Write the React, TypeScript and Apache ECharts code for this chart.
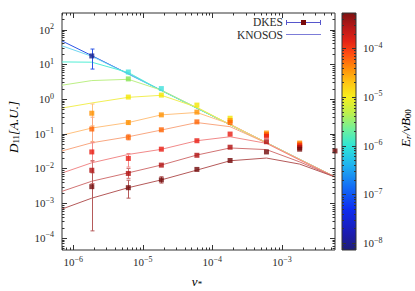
import { useEffect, useRef } from 'react';
import * as echarts from 'echarts';

// ---- axis ranges ----
const X_MIN = 6.9e-7;
const X_MAX = 5.8e-3;
const Y_MIN = 4.5e-5;
const Y_MAX = 300;
const CB_MIN = 7.2e-9;
const CB_MAX = 5.3e-4;

// ---- tick label exponents ----
const xTickExps = [-6, -5, -4, -3];
const yTickExps = [-4, -3, -2, -1, 0, 1, 2];
const cbTickExps = [-8, -7, -6, -5, -4];

// ---- KNOSOS curves (nu grid, one array per E_r value) ----
const nuKnosos = [6.9e-7, 1.85e-6, 6.2e-6, 1.85e-5, 6.0e-5, 1.8e-4, 6.0e-4, 1.8e-3, 5.8e-3];
const knosos1 = [47, 17.8, 5.3, 1.78, 0.55, 0.183, 0.055, 0.0183, 0.0057];
const knosos2 = [34, 17.0, 5.2, 1.76, 0.55, 0.182, 0.055, 0.0182, 0.0057];
const knosos3 = [11.7, 11.5, 5.8, 1.75, 0.54, 0.182, 0.055, 0.0182, 0.0057];
const knosos4 = [2.5, 3.4, 3.7, 1.8, 0.56, 0.182, 0.055, 0.0182, 0.0057];
const knosos5 = [0.55, 0.77, 1.12, 1.28, 0.58, 0.184, 0.055, 0.0182, 0.0057];
const knosos6 = [0.091, 0.146, 0.21, 0.35, 0.41, 0.19, 0.055, 0.0182, 0.0057];
const knosos7 = [0.032, 0.055, 0.082, 0.128, 0.21, 0.16, 0.054, 0.018, 0.0057];
const knosos8 = [0.0074, 0.0146, 0.0254, 0.0356, 0.063, 0.082, 0.053, 0.0175, 0.0057];
const knosos9 = [0.0022, 0.0043, 0.0075, 0.0126, 0.0244, 0.039, 0.035, 0.0155, 0.0057];
const knosos10 = [0.00068, 0.0014, 0.0028, 0.0047, 0.009, 0.0167, 0.02, 0.0134, 0.0057];
const knososLines = [knosos1, knosos2, knosos3, knosos4, knosos5, knosos6, knosos7, knosos8, knosos9, knosos10];

// ---- DKES points ----
const nuDkes = [1.85e-6, 6.2e-6, 1.85e-5, 6.0e-5, 1.8e-4, 6.0e-4, 1.8e-3, 5.8e-3];
const dkes1 = [17.4, null, null, null, null, null, null, null];
const dkes2 = [null, null, null, null, null, null, null, null];
const dkes3 = [null, 6.0, 2.0, null, null, null, null, null];
const dkes4 = [null, 3.8, null, null, null, null, null, null];
const dkes5 = [null, 1.14, 1.3, 0.67, 0.28, null, null, null];
const dkes6 = [0.39, 0.21, 0.35, 0.42, 0.24, 0.105, 0.054, null];
const dkes7 = [0.137, 0.079, 0.13, 0.22, 0.21, 0.095, 0.05, null];
const dkes8 = [0.03, 0.0195, 0.036, 0.063, 0.098, 0.085, 0.045, null];
const dkes9 = [0.0089, 0.0072, 0.0125, 0.024, 0.041, 0.059, 0.04, null];
const dkes10 = [0.003, 0.0028, 0.0047, 0.0094, 0.017, 0.03, 0.036, 0.032];
const dkesPoints = [dkes1, dkes2, dkes3, dkes4, dkes5, dkes6, dkes7, dkes8, dkes9, dkes10];

// error bars: [series index, nu index, low, high]
const errorBars: [number, number, number, number][] = [
  [0, 0, 7.3, 27.5],
  [5, 0, 0.17, 0.72],
  [6, 0, 0.06, 0.3],
  [7, 0, 0.016, 0.055],
  [8, 0, 0.0037, 0.017],
  [9, 0, 1.6e-4, 0.0075],
  [5, 1, 0.19, 0.235],
  [6, 1, 0.066, 0.096],
  [7, 1, 0.011, 0.027],
  [8, 1, 0.0052, 0.01],
  [9, 1, 0.0014, 0.0046],
  [9, 2, 0.0038, 0.0058],
];

// ---- styles ----
const FONT = '"Liberation Serif", "DejaVu Serif", serif';
const AX = '#333333';
const TXT = '#2b2b2b';
const lineColors = ['#2b55e6', '#6fd6f2', '#52efd6', '#bdf086', '#f2ef55', '#ffc27f', '#f9a882', '#f28a8a', '#d27474', '#b55a5a'];
const pointColors = ['#1a2290', '#4fc9ef', '#3fe0dc', '#86e34d', '#f2e600', '#ff9100', '#ff6300', '#e81c12', '#b00f0f', '#720909'];
const cbStops: [number, string][] = [
  [0, '#1e1e78'], [0.07, '#1c1cb0'], [0.17, '#0d2cf0'], [0.27, '#1470f5'], [0.36, '#1fb4ef'],
  [0.44, '#2fe6d6'], [0.51, '#70f09a'], [0.58, '#bff04a'], [0.645, '#f6ef1e'], [0.71, '#ffc212'],
  [0.77, '#ff8a0a'], [0.83, '#ff4a12'], [0.88, '#e52416'], [0.94, '#b81818'], [1, '#7e1212'],
];

const tickRich = {
  b: { fontFamily: FONT, fontSize: 11, color: TXT, lineHeight: 14 },
  s: { fontFamily: FONT, fontSize: 8, color: TXT, lineHeight: 9, verticalAlign: 'top' },
};
const powLabel = (exps: number[]) => (v: number) => {
  const l = Math.log10(v);
  const e = Math.round(l);
  if (Math.abs(l - e) > 1e-6 || !exps.includes(e)) return '';
  return `{b|10}{s|${e < 0 ? '\u2212' + -e : e}}`;
};

function decadeTicks(min: number, max: number) {
  const majors: number[] = [];
  const minors: number[] = [];
  for (let n = Math.floor(Math.log10(min)); n <= Math.ceil(Math.log10(max)); n++) {
    for (let k = 1; k <= 9; k++) {
      const v = k * Math.pow(10, n);
      if (v < min * 1.0001 || v > max * 0.9999) continue;
      (k === 1 ? majors : minors).push(v);
    }
  }
  return { majors, minors };
}

const px = (v: number) => Math.round(v) + 0.5;

function buildOption() {
  const xt = decadeTicks(X_MIN, X_MAX);
  const yt = decadeTicks(Y_MIN, Y_MAX);
  const ct = decadeTicks(CB_MIN, CB_MAX);
  const MAJ = 5;
  const MIN = 2.5;
  const tickData: number[][] = [
    ...xt.majors.map((v) => [v, Y_MIN, 0, MAJ]),
    ...xt.minors.map((v) => [v, Y_MIN, 0, MIN]),
    ...yt.majors.map((v) => [X_MIN, v, 1, MAJ]),
    ...yt.minors.map((v) => [X_MIN, v, 1, MIN]),
  ];
  const cbTickData: number[][] = [
    ...ct.majors.map((v) => [0, v, 4]),
    ...ct.minors.map((v) => [0, v, 2]),
  ];
  const tickStyle = { stroke: AX, lineWidth: 1 };

  const series: any[] = [];
  knososLines.forEach((arr, i) => {
    series.push({
      type: 'line',
      xAxisIndex: 0,
      yAxisIndex: 0,
      data: nuKnosos.map((x, j) => [x, arr[j]]),
      symbol: 'none',
      lineStyle: { color: lineColors[i], width: 1 },
      z: 2,
      silent: true,
    });
  });
  series.push({
    type: 'custom',
    xAxisIndex: 0,
    yAxisIndex: 0,
    z: 3,
    clip: false,
    silent: true,
    data: errorBars.map(([si, ni, lo, hi]) => [nuDkes[ni], lo, hi, si]),
    renderItem: (_p: any, api: any) => {
      const x = api.value(0);
      const a = api.coord([x, api.value(1)]);
      const b = api.coord([x, api.value(2)]);
      const c = lineColors[api.value(3)];
      const st = { stroke: c, lineWidth: 1 };
      const cx = px(a[0]);
      return {
        type: 'group',
        children: [
          { type: 'line', shape: { x1: cx, y1: a[1], x2: cx, y2: b[1] }, style: st },
          { type: 'line', shape: { x1: cx - 2, y1: a[1], x2: cx + 2, y2: a[1] }, style: st },
          { type: 'line', shape: { x1: cx - 2, y1: b[1], x2: cx + 2, y2: b[1] }, style: st },
        ],
      };
    },
  });
  dkesPoints.forEach((arr, i) => {
    const data = nuDkes.map((x, j) => [x, arr[j]]).filter((d) => d[1] !== null);
    if (!data.length) return;
    series.push({
      type: 'scatter',
      xAxisIndex: 0,
      yAxisIndex: 0,
      data,
      symbol: 'rect',
      symbolSize: 5,
      itemStyle: { color: pointColors[i] },
      z: 4,
      clip: false,
      silent: true,
    });
  });
  series.push({
    type: 'custom',
    xAxisIndex: 0,
    yAxisIndex: 0,
    z: 5,
    clip: false,
    silent: true,
    data: tickData,
    renderItem: (_p: any, api: any) => {
      const kind = api.value(2);
      const len = api.value(3);
      if (kind === 0) {
        const v = api.value(0);
        const b = api.coord([v, Y_MIN]);
        const t = api.coord([v, Y_MAX]);
        const x = px(b[0]);
        return {
          type: 'group',
          children: [
            { type: 'line', shape: { x1: x, y1: b[1], x2: x, y2: b[1] - len }, style: tickStyle },
            { type: 'line', shape: { x1: x, y1: t[1], x2: x, y2: t[1] + len }, style: tickStyle },
          ],
        };
      }
      const v = api.value(1);
      const l = api.coord([X_MIN, v]);
      const r = api.coord([X_MAX, v]);
      const y = px(l[1]);
      return {
        type: 'group',
        children: [
          { type: 'line', shape: { x1: l[0], y1: y, x2: l[0] + len, y2: y }, style: tickStyle },
          { type: 'line', shape: { x1: r[0], y1: y, x2: r[0] - len, y2: y }, style: tickStyle },
        ],
      };
    },
  });
  series.push({
    type: 'custom',
    xAxisIndex: 1,
    yAxisIndex: 1,
    z: 5,
    clip: false,
    silent: true,
    data: cbTickData,
    renderItem: (_p: any, api: any) => {
      const v = api.value(1);
      const len = api.value(2);
      const l = api.coord([0, v]);
      const r = api.coord([1, v]);
      const y = px(l[1]);
      return {
        type: 'group',
        children: [
          { type: 'line', shape: { x1: l[0], y1: y, x2: l[0] + len, y2: y }, style: tickStyle },
          { type: 'line', shape: { x1: r[0], y1: y, x2: r[0] - len, y2: y }, style: tickStyle },
        ],
      };
    },
  });

  const nameRich = {
    i: { fontFamily: FONT, fontSize: 13, fontStyle: 'italic', color: TXT },
    n: { fontFamily: FONT, fontSize: 13, color: TXT },
    sub: { fontFamily: FONT, fontSize: 9, fontStyle: 'normal', color: TXT, verticalAlign: 'bottom', padding: [6, 0, 0, 0] },
    subi: { fontFamily: FONT, fontSize: 9, fontStyle: 'italic', color: TXT, verticalAlign: 'bottom', padding: [6, 0, 0, 0] },
  };

  return {
    animation: false,
    backgroundColor: '#ffffff',
    grid: [
      { left: 62, top: 13, width: 273, height: 237, show: true, borderColor: AX, borderWidth: 1, backgroundColor: 'transparent' },
      {
        left: 342, top: 13, width: 14, height: 237, show: true, borderColor: AX, borderWidth: 1,
        backgroundColor: {
          type: 'linear', x: 0, y: 1, x2: 0, y2: 0,
          colorStops: cbStops.map(([offset, color]) => ({ offset, color })),
        },
      },
    ],
    xAxis: [
      {
        type: 'log', gridIndex: 0, min: X_MIN, max: X_MAX, logBase: 10,
        axisLine: { show: false }, axisTick: { show: false }, splitLine: { show: false },
        axisLabel: { formatter: powLabel(xTickExps), rich: tickRich, margin: 5, interval: 0, hideOverlap: false },
      },
      { type: 'value', gridIndex: 1, min: 0, max: 1, show: false },
    ],
    yAxis: [
      {
        type: 'log', gridIndex: 0, min: Y_MIN, max: Y_MAX, logBase: 10,
        axisLine: { show: false }, axisTick: { show: false }, splitLine: { show: false },
        axisLabel: { formatter: powLabel(yTickExps), rich: tickRich, margin: 8, interval: 0, hideOverlap: false },
      },
      {
        type: 'log', gridIndex: 1, min: CB_MIN, max: CB_MAX, logBase: 10, position: 'right',
        axisLine: { show: false }, axisTick: { show: false }, splitLine: { show: false },
        axisLabel: { formatter: powLabel(cbTickExps), rich: tickRich, margin: 7, interval: 0, hideOverlap: false },
      },
    ],
    graphic: [
      {
        type: 'text', x: 13, y: 127, rotation: Math.PI / 2,
        style: { text: '{i|D}{sub|11}{i|[A.U.]}', rich: nameRich, align: 'center', verticalAlign: 'middle' },
      },
      {
        type: 'text', x: 197, y: 281,
        style: { text: '{i|\u03bd}{sub|*}', rich: nameRich, align: 'center', verticalAlign: 'middle' },
      },
      {
        type: 'text', x: 405, y: 128, rotation: Math.PI / 2,
        style: { text: '{i|E}{subi|r}{i|/vB}{sub|00}', rich: nameRich, align: 'center', verticalAlign: 'middle' },
      },
      {
        type: 'text', x: 283, y: 22,
        style: { text: 'DKES', fontFamily: FONT, fontSize: 11.5, lineHeight: 11, fill: TXT, align: 'right', verticalAlign: 'middle' },
      },
      {
        type: 'text', x: 283, y: 35,
        style: { text: 'KNOSOS', fontFamily: FONT, fontSize: 11.5, lineHeight: 11, fill: TXT, align: 'right', verticalAlign: 'middle' },
      },
      { type: 'line', shape: { x1: 286, y1: 22.5, x2: 321, y2: 22.5 }, style: { stroke: '#5656cc', lineWidth: 1 } },
      { type: 'line', shape: { x1: 286.5, y1: 20, x2: 286.5, y2: 25 }, style: { stroke: '#5656cc', lineWidth: 1 } },
      { type: 'line', shape: { x1: 320.5, y1: 20, x2: 320.5, y2: 25 }, style: { stroke: '#5656cc', lineWidth: 1 } },
      { type: 'rect', shape: { x: 301, y: 20, width: 5, height: 5 }, style: { fill: '#7a0a0a' } },
      { type: 'line', shape: { x1: 286, y1: 34.5, x2: 321, y2: 34.5 }, style: { stroke: '#7c7cd8', lineWidth: 1 } },
    ],
    series,
  };
}

export default function App() {
  const ref = useRef<HTMLDivElement>(null);
  useEffect(() => {
    if (!ref.current) return;
    const chart = echarts.init(ref.current, null, { renderer: 'svg' });
    chart.setOption(buildOption() as any);
    return () => chart.dispose();
  }, []);
  return (
    <div
      ref={ref}
      style={{ position: 'fixed', left: 0, top: 0, width: 415, height: 291, background: '#ffffff' }}
    />
  );
}
